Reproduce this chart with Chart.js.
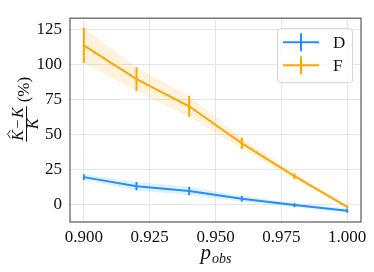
<!DOCTYPE html>
<html>
<head>
<meta charset="utf-8">
<script src="https://cdn.jsdelivr.net/npm/chart.js@4.4.1/dist/chart.umd.min.js"></script>
<style>
  html, body { margin: 0; padding: 0; background: #fff; }
  #wrap { width: 374px; height: 272px; }
</style>
</head>
<body>
<div id="wrap"><canvas id="chart" width="374" height="272"></canvas></div>
<script>
// data
const pObs = [0.90, 0.92, 0.94, 0.96, 0.98, 1.00];
const seriesNames = ['D', 'F'];
const dMean = [19.3, 12.8, 9.4, 3.8, -0.7, -4.7];
const dErr = [2, 3, 3, 2, 1.5, 1.5];
const fMean = [113.5, 89.4, 70, 43.5, 20, -2];
const fErr = [12.5, 8.5, 7.5, 4, 2, 1];
const xTicks = [0.900, 0.925, 0.950, 0.975, 1.000];
const yTicks = [0, 25, 50, 75, 100, 125];

const BLUE = '#1E90FF';
const ORANGE = '#FFA500';
const SERIF = '"Liberation Serif", "DejaVu Serif", serif';

function pts(ys, sign, err) {
    return pObs.map((x, i) => ({ x: x, y: ys[i] + (err ? sign * err[i] : 0) }));
}

const series = [
    { name: seriesNames[0], mean: dMean, err: dErr, color: BLUE, band: 'rgba(30,144,255,0.13)' },
    { name: seriesNames[1], mean: fMean, err: fErr, color: ORANGE, band: 'rgba(255,165,0,0.13)' }
];

const datasets = [];
series.forEach(s => {
    datasets.push({ data: pts(s.mean, 1, s.err), borderWidth: 0, pointRadius: 0, fill: '+1', backgroundColor: s.band, order: 10 });
    datasets.push({ data: pts(s.mean, -1, s.err), borderWidth: 0, pointRadius: 0, fill: false, order: 10 });
});
series.forEach(s => {
    datasets.push({ data: pts(s.mean, 0), borderColor: s.color, borderWidth: 2, pointRadius: 0, fill: false, tension: 0, order: 1 });
});

// error bars, frame, legend and axis titles
const extras = {
    id: 'extras',
    afterDatasetsDraw(chart) {
        const ctx = chart.ctx;
        const xs = chart.scales.x, ys = chart.scales.y;
        const a = chart.chartArea;

        ctx.save();
        ctx.lineWidth = 2;
        series.forEach(s => {
            ctx.strokeStyle = s.color;
            pObs.forEach((x, i) => {
                const px = xs.getPixelForValue(x);
                ctx.beginPath();
                ctx.moveTo(px, ys.getPixelForValue(s.mean[i] + s.err[i]));
                ctx.lineTo(px, ys.getPixelForValue(s.mean[i] - s.err[i]));
                ctx.stroke();
            });
        });

        // frame
        ctx.strokeStyle = '#666';
        ctx.lineWidth = 1.3;
        ctx.strokeRect(a.left, a.top, a.right - a.left, a.bottom - a.top);

        // legend
        const lx = a.right - 84, ly = a.top + 10, lw = 75, lh = 54;
        ctx.fillStyle = 'rgba(255,255,255,0.8)';
        ctx.strokeStyle = '#d6d6d6';
        ctx.lineWidth = 1;
        ctx.beginPath();
        ctx.roundRect(lx + 0.5, ly + 0.5, lw, lh, 3);
        ctx.fill();
        ctx.stroke();
        ctx.font = '17px ' + SERIF;
        ctx.textBaseline = 'middle';
        ctx.textAlign = 'left';
        series.forEach((s, k) => {
            const y = ly + 14 + k * 23;
            ctx.strokeStyle = s.color;
            ctx.lineWidth = 2;
            ctx.beginPath();
            ctx.moveTo(lx + 6, y); ctx.lineTo(lx + 42, y);
            ctx.moveTo(lx + 24, y - 9); ctx.lineTo(lx + 24, y + 9);
            ctx.stroke();
            ctx.fillStyle = '#111';
            ctx.fillText(s.name, lx + 56, y + 1);
        });

        // x title: p_obs
        ctx.fillStyle = '#111';
        ctx.textBaseline = 'alphabetic';
        ctx.font = 'italic 21px ' + SERIF;
        const pw = ctx.measureText('p').width;
        ctx.font = 'italic 14px ' + SERIF;
        const ow = ctx.measureText('obs').width;
        const cx = (a.left + a.right) / 2 - (pw + ow) / 2;
        ctx.font = 'italic 21px ' + SERIF;
        ctx.fillText('p', cx, 259);
        ctx.font = 'italic 14px ' + SERIF;
        ctx.fillText('obs', cx + pw + 1, 263);

        // y title: (K^ - K) / K (%)
        ctx.translate(26, 122);
        ctx.rotate(-Math.PI / 2);
        const fs = 16;
        ctx.font = 'italic ' + fs + 'px ' + SERIF;
        const kw = ctx.measureText('K').width;
        ctx.font = fs + 'px ' + SERIF;
        const mw = ctx.measureText('\u2212').width + 3;
        const numW = kw * 2 + mw;
        const fx = -numW / 2 - 2;
        ctx.font = 'italic ' + fs + 'px ' + SERIF;
        ctx.fillText('K', fx, -3);
        ctx.font = fs + 'px ' + SERIF;
        ctx.fillText('\u2212', fx + kw + 1.5, -3);
        ctx.font = 'italic ' + fs + 'px ' + SERIF;
        ctx.fillText('K', fx + kw + mw, -3);
        // hat
        ctx.strokeStyle = '#111';
        ctx.lineWidth = 0.9;
        ctx.beginPath();
        ctx.moveTo(fx + 2.5, -15.5); ctx.lineTo(fx + 6.5, -18.5); ctx.lineTo(fx + 10.5, -15.5);
        ctx.stroke();
        // bar
        ctx.lineWidth = 1;
        ctx.beginPath();
        ctx.moveTo(fx - 1, 0.5); ctx.lineTo(fx + numW + 1, 0.5);
        ctx.stroke();
        ctx.fillText('K', fx + numW / 2 - kw / 2, 12);
        ctx.font = '17px ' + SERIF;
        ctx.fillText('(%)', fx + numW + 5, 3);
        ctx.restore();
    }
};

new Chart(document.getElementById('chart'), {
    type: 'line',
    data: { datasets: datasets },
    options: {
        responsive: false,
        devicePixelRatio: 1,
        animation: false,
        layout: { padding: { left: 0, top: 5, right: 13, bottom: 0 } },
        plugins: { legend: { display: false }, tooltip: { enabled: false } },
        scales: {
            x: {
                type: 'linear',
                min: 0.89475,
                max: 1.00525,
                afterBuildTicks: axis => { axis.ticks = xTicks.map(v => ({ value: v })); },
                afterFit: axis => { axis.height = 50; },
                grid: { color: '#e6e6e6', lineWidth: 1, drawTicks: false },
                border: { display: false },
                ticks: {
                    padding: 5,
                    color: '#111',
                    font: { family: SERIF, size: 17 },
                    maxRotation: 0,
                    callback: v => Number(v).toFixed(3)
                }
            },
            y: {
                type: 'linear',
                min: -12.8,
                max: 133,
                afterBuildTicks: axis => { axis.ticks = yTicks.map(v => ({ value: v })); },
                afterFit: axis => { axis.width = 70; },
                grid: { color: '#e6e6e6', lineWidth: 1, drawTicks: false },
                border: { display: false },
                ticks: {
                    padding: 8,
                    color: '#111',
                    font: { family: SERIF, size: 17 }
                }
            }
        }
    },
    plugins: [extras]
});
</script>
</body>
</html>
